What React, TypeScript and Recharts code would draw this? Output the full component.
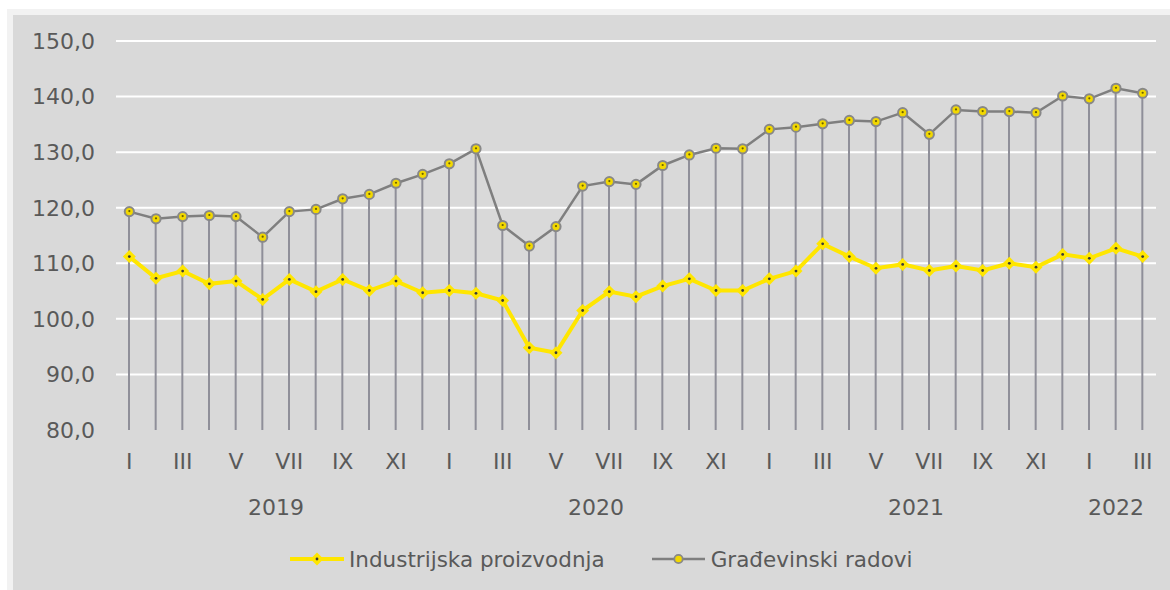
import React from 'react';
import { ComposedChart, Bar, Line, XAxis, YAxis, CartesianGrid, Legend } from 'recharts';

const FONT = '"DejaVu Sans", Verdana, sans-serif';
const TEXT = '#595959';
const YELLOW = '#FFE600';
const GRAY = '#7f7f7f';
const DROP = '#8f8f99';

const MONTHS = [
  'I', 'II', 'III', 'IV', 'V', 'VI', 'VII', 'VIII', 'IX', 'X', 'XI', 'XII',
  'I', 'II', 'III', 'IV', 'V', 'VI', 'VII', 'VIII', 'IX', 'X', 'XI', 'XII',
  'I', 'II', 'III', 'IV', 'V', 'VI', 'VII', 'VIII', 'IX', 'X', 'XI', 'XII',
  'I', 'II', 'III',
];

const YEARS = [
  { label: '2019', start: 0, count: 12 },
  { label: '2020', start: 12, count: 12 },
  { label: '2021', start: 24, count: 12 },
  { label: '2022', start: 36, count: 3 },
];

const INDUSTRIJA = [
  111.2, 107.3, 108.6, 106.3, 106.8, 103.5, 107.1, 104.9, 107.1, 105.1, 106.8, 104.7,
  105.1, 104.6, 103.3, 94.8, 93.9, 101.5, 104.9, 104.0, 105.9, 107.2, 105.1, 105.1,
  107.2, 108.6, 113.5, 111.2, 109.1, 109.8, 108.7, 109.5, 108.7, 110.0, 109.3, 111.6,
  110.9, 112.7, 111.2,
];

const GRADJEVINA = [
  119.3, 118.0, 118.4, 118.6, 118.4, 114.7, 119.3, 119.7, 121.6, 122.4, 124.4, 126.0,
  127.9, 130.6, 116.8, 113.1, 116.6, 123.9, 124.7, 124.2, 127.6, 129.5, 130.7, 130.6,
  134.1, 134.5, 135.1, 135.7, 135.5, 137.1, 133.2, 137.6, 137.3, 137.3, 137.1, 140.1,
  139.6, 141.5, 140.6,
];

const Y_TICKS = [80, 90, 100, 110, 120, 130, 140, 150];

const data = MONTHS.map((m, i) => ({
  id: `p${i}`,
  month: m,
  industrija: INDUSTRIJA[i],
  gradjevina: GRADJEVINA[i],
}));

const CHART_W = 1170;
const CHART_H = 590;
const MARGIN = { top: 41, right: 14, left: 0, bottom: 11 };
const Y_AXIS_W = 116;
const BAND = (CHART_W - MARGIN.right - Y_AXIS_W) / data.length;

const fmt = (v) => v.toFixed(1).replace('.', ',');

function MonthTick({ x, y, payload, index }) {
  const i = payload && payload.index != null ? payload.index : index;
  // only odd months are labelled
  if (i % 2 !== 0) return null;
  return (
    <text x={x} y={y + 39} textAnchor="middle" fill={TEXT} fontSize={22} fontFamily={FONT}>
      {MONTHS[i]}
    </text>
  );
}

function YearTick({ x, y, payload, index }) {
  const i = payload && payload.index != null ? payload.index : index;
  const yr = YEARS.find((g) => g.start + Math.floor((g.count - 1) / 2) === i);
  if (!yr) return null;
  const shift = yr.count % 2 === 0 ? BAND / 2 : 0;
  return (
    <text x={x + shift} y={y + 40} textAnchor="middle" fill={TEXT} fontSize={22} fontFamily={FONT}>
      {yr.label}
    </text>
  );
}

function DiamondDot({ cx, cy }) {
  if (cx == null || cy == null) return null;
  const r = 6.5;
  return (
    <g>
      <path d={`M${cx},${cy - r}L${cx + r},${cy}L${cx},${cy + r}L${cx - r},${cy}Z`} fill={YELLOW} />
      <circle cx={cx} cy={cy} r={1.4} fill="#3a3a3a" />
    </g>
  );
}

function CircleDot({ cx, cy }) {
  if (cx == null || cy == null) return null;
  return (
    <g>
      <circle cx={cx} cy={cy} r={4.6} fill="#f2d800" stroke="#888888" strokeWidth={2} />
      <circle cx={cx} cy={cy - 0.5} r={1.1} fill="#6b6000" />
    </g>
  );
}

function LegendContent() {
  return (
    <div style={{ display: 'flex', alignItems: 'center', height: 40, fontFamily: FONT, fontSize: 21.5, color: TEXT }}>
      <svg width={54} height={16} style={{ display: 'block' }}>
        <line x1={0} y1={8} x2={54} y2={8} stroke={YELLOW} strokeWidth={4} />
        <path d="M27,1.5L33.5,8L27,14.5L20.5,8Z" fill={YELLOW} />
        <circle cx={27} cy={8} r={1.4} fill="#3a3a3a" />
      </svg>
      <span style={{ marginLeft: 5 }}>Industrijska proizvodnja</span>
      <svg width={53} height={16} style={{ display: 'block', marginLeft: 47 }}>
        <line x1={0} y1={8} x2={53} y2={8} stroke={GRAY} strokeWidth={2.5} />
        <circle cx={26.5} cy={8} r={4.2} fill="#f2d800" stroke="#888888" strokeWidth={1.8} />
      </svg>
      <span style={{ marginLeft: 6 }}>Građevinski radovi</span>
    </div>
  );
}

export default function App() {
  return (
    <div style={{ position: 'absolute', left: 0, top: 0, width: CHART_W, height: CHART_H, background: '#ffffff', overflow: 'hidden' }}>
      <div style={{ position: 'absolute', left: 7, top: 9, right: 0, bottom: 0, background: '#f2f2f2' }} />
      <div style={{ position: 'absolute', left: 13, top: 15, right: 0, bottom: 0, background: '#d9d9d9' }} />
      <div style={{ position: 'absolute', left: 0, top: 0 }}>
        <ComposedChart width={CHART_W} height={CHART_H} data={data} margin={MARGIN}>
          <CartesianGrid vertical={false} stroke="#ffffff" strokeWidth={2} horizontalValues={[90, 100, 110, 120, 130, 140, 150]} />
          <XAxis
            dataKey="id"
            interval={0}
            axisLine={false}
            tickLine={false}
            tickSize={0}
            tickMargin={0}
            height={45}
            tick={<MonthTick />}
          />
          <XAxis
            xAxisId="year"
            dataKey="id"
            interval={0}
            axisLine={false}
            tickLine={false}
            tickSize={0}
            tickMargin={0}
            height={64}
            tick={<YearTick />}
          />
          <YAxis
            domain={[80, 150]}
            ticks={Y_TICKS}
            interval={0}
            width={Y_AXIS_W}
            axisLine={false}
            tickLine={false}
            tickSize={0}
            tickMargin={21}
            tickFormatter={fmt}
            tick={{ fill: TEXT, fontSize: 22, fontFamily: FONT }}
          />
          <Legend
            verticalAlign="bottom"
            align="left"
            content={<LegendContent />}
            wrapperStyle={{ left: 290, width: 700 }}
          />
          <Bar dataKey="gradjevina" barSize={2} fill={DROP} isAnimationActive={false} legendType="none" />
          <Line
            dataKey="gradjevina"
            name="Građevinski radovi"
            stroke={GRAY}
            strokeWidth={2.5}
            dot={<CircleDot />}
            activeDot={false}
            isAnimationActive={false}
          />
          <Line
            dataKey="industrija"
            name="Industrijska proizvodnja"
            stroke={YELLOW}
            strokeWidth={4}
            dot={<DiamondDot />}
            activeDot={false}
            isAnimationActive={false}
          />
        </ComposedChart>
      </div>
    </div>
  );
}
